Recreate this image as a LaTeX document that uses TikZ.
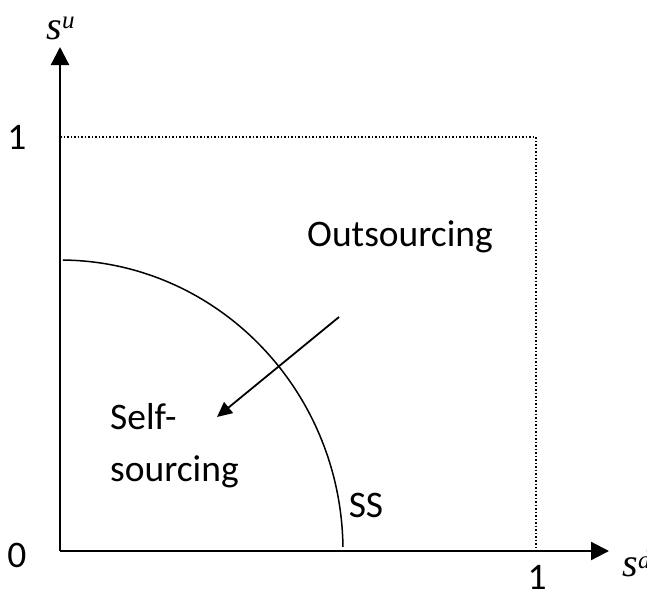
\documentclass[tikz,border=0pt]{standalone}
\usepackage{fontspec}
\setmainfont{Carlito}
\newfontfamily\timesit{Liberation Serif}[ItalicFont={* Italic}]
\usetikzlibrary{arrows.meta}
\begin{document}
\begin{tikzpicture}[x=1pt,y=-1pt,
  lbl/.style={inner sep=0pt,font=\fontsize{37.5}{44}\selectfont},
  axis/.style={line width=2.2pt,-{Triangle[length=18pt,width=18pt]}},
  guide/.style={line width=1.5pt,dotted},
  curve/.style={line width=1.5pt},
  movearrow/.style={line width=1.8pt,-{Triangle[length=15pt,width=14pt]}}]
\useasboundingbox (0,0) rectangle (647,594);
\coordinate (O) at (60,551);
\coordinate (ytip) at (60,47);
\coordinate (xtip) at (609,551);
\coordinate (y1) at (60,137);
\coordinate (c11) at (536,137);
\coordinate (x1) at (536,551);
\draw[guide] (y1) -- (c11) -- (x1);
\draw[axis] (O) -- (ytip);
\draw[axis] (O) -- (xtip);
\draw[curve] (O) ++(89.4:283pt and 291pt) arc[start angle=89.4,end angle=0.8,x radius=283pt,y radius=291pt];
\coordinate (a0) at (339,317);
\coordinate (a1) at (217,417);
\draw[movearrow] (a0) -- (a1);
\node[lbl] (one y) at (17,137) {1};
\node[lbl] (zero) at (17,555) {0};
\node[lbl] (one x) at (537,577) {1};
\node[lbl] (out) at (400,237) {Outsourcing};
\node[lbl,anchor=west] (self) at (110,417) {Self-};
\node[lbl,anchor=west] (sourcing) at (110,472) {sourcing};
\node[lbl] (ss) at (366,505) {SS};
\node[inner sep=0pt,font=\fontsize{40}{44}\timesit\itshape] (su) at (54,30) {s};
\node[inner sep=0pt,font=\fontsize{25}{28}\timesit\itshape,anchor=west] (sup u) at ([yshift=-3pt]su.north east) {u};
\node[inner sep=0pt,font=\fontsize{40}{44}\timesit\itshape] (sd) at (630,567) {s};
\node[inner sep=0pt,font=\fontsize{25}{28}\timesit\itshape,anchor=west] (sup d) at ([yshift=-3pt]sd.north east) {d};
\end{tikzpicture}
\end{document}
